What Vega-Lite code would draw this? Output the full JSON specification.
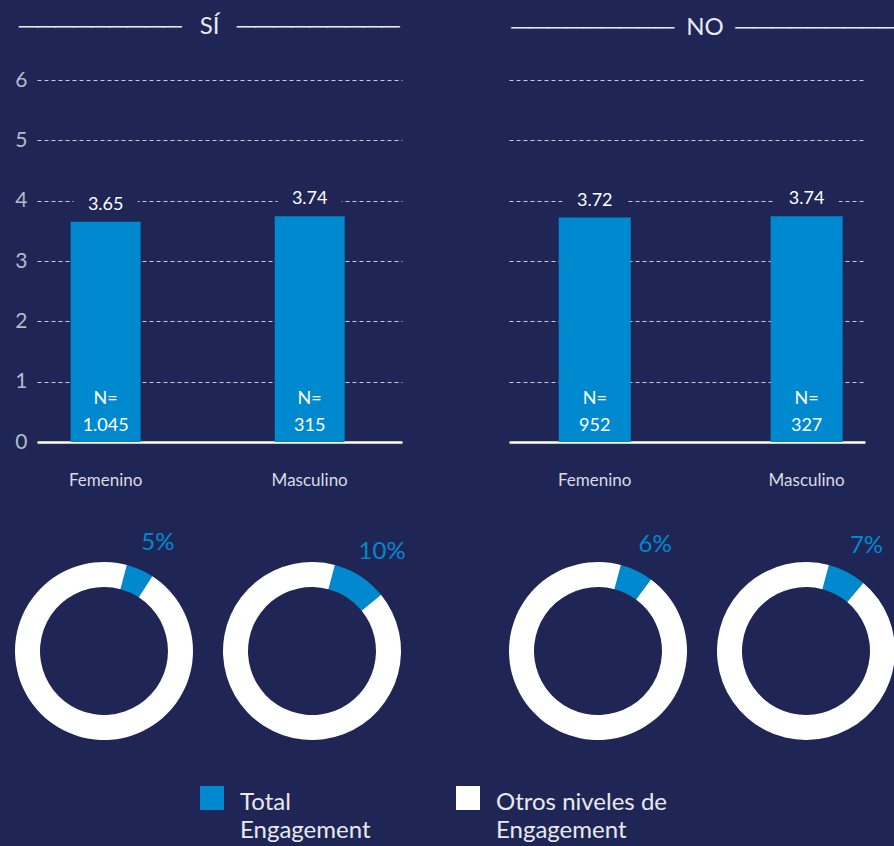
{
  "$schema": "https://vega.github.io/schema/vega-lite/v6.json",
  "background": "#1f2656",
  "padding": {"left": 14, "top": 15, "right": 0, "bottom": 60},
  "datasets": {
    "bars": [
      {"panel": "SÍ", "gender": "Femenino", "mean": 3.65, "n": "1.045"},
      {"panel": "SÍ", "gender": "Masculino", "mean": 3.74, "n": "315"},
      {"panel": "NO", "gender": "Femenino", "mean": 3.72, "n": "952"},
      {"panel": "NO", "gender": "Masculino", "mean": 3.74, "n": "327"}
    ],
    "donuts": [
      {"panel": "SÍ", "gender": "Femenino", "cat": "Total Engagement", "share": 0.05},
      {"panel": "SÍ", "gender": "Femenino", "cat": "Otros niveles de Engagement", "share": 0.95},
      {"panel": "SÍ", "gender": "Masculino", "cat": "Total Engagement", "share": 0.10},
      {"panel": "SÍ", "gender": "Masculino", "cat": "Otros niveles de Engagement", "share": 0.90},
      {"panel": "NO", "gender": "Femenino", "cat": "Total Engagement", "share": 0.06},
      {"panel": "NO", "gender": "Femenino", "cat": "Otros niveles de Engagement", "share": 0.94},
      {"panel": "NO", "gender": "Masculino", "cat": "Total Engagement", "share": 0.07},
      {"panel": "NO", "gender": "Masculino", "cat": "Otros niveles de Engagement", "share": 0.93}
    ]
  },
  "concat": [
    {
      "hconcat": [
        {
          "width": 365, "height": 362,
          "title": {"text": "─────────\u2002\u00a0SÍ\u2002\u00a0─────────", "dx": -10, "dy": 6},
          "data": {"name": "bars"},
          "transform": [{"filter": "datum.panel == 'SÍ'"}],
          "encoding": {
            "x": {"field": "gender", "type": "nominal",
              "scale": {"paddingInner": 0.657, "paddingOuter": 0.223, "align": 0.37},
              "axis": {"labelAngle": 0, "labelFontSize": 17, "labelColor": "#d9dbe4", "labelPadding": 30, "ticks": false, "domainColor": "#ffffff", "domainWidth": 2.5, "grid": false}}
          },
          "layer": [
            {"mark": {"type": "bar", "color": "#0089cf", "opacity": 1},
             "encoding": {"y": {"field": "mean", "type": "quantitative", "scale": {"domain": [0, 6]},
               "axis": {"values": [0, 1, 2, 3, 4, 5, 6], "format": "d", "grid": true, "gridDash": [4, 3], "gridColor": "#c9ccd9", "gridWidth": 1,
                 "gridOpacity": {"condition": {"test": "datum.value == 0", "value": 0}, "value": 1},
                 "domain": false, "ticks": false, "labelFontSize": 21, "labelColor": "#b6bacb", "labelPadding": 10}}}},
            {"mark": {"type": "tick", "color": "#1f2656", "opacity": 1, "size": 64, "thickness": 24, "yOffset": -13},
             "encoding": {"y": {"field": "mean", "type": "quantitative"}}},
            {"mark": {"type": "text", "color": "#ffffff", "fontSize": 18, "dy": -17, "baseline": "middle"},
             "encoding": {"y": {"field": "mean", "type": "quantitative"}, "text": {"field": "mean", "type": "quantitative", "format": ".2f"}}},
            {"mark": {"type": "text", "color": "#ffffff", "fontSize": 18, "dy": -43, "baseline": "middle"},
             "encoding": {"y": {"datum": 0}, "text": {"value": "N="}}},
            {"mark": {"type": "text", "color": "#ffffff", "fontSize": 18, "dy": -16, "baseline": "middle"},
             "encoding": {"y": {"datum": 0}, "text": {"field": "n"}}}
          ]
        },
        {
          "width": 356, "height": 362,
          "title": {"text": "─────────\u00a0\u00a0NO\u00a0\u00a0─────────", "dx": 18, "dy": -4},
          "data": {"name": "bars"},
          "transform": [{"filter": "datum.panel == 'NO'"}],
          "encoding": {
            "x": {"field": "gender", "type": "nominal",
              "scale": {"paddingInner": 0.66, "paddingOuter": 0.17, "align": 0.69},
              "axis": {"labelAngle": 0, "labelFontSize": 17, "labelColor": "#d9dbe4", "labelPadding": 30, "ticks": false, "domainColor": "#ffffff", "domainWidth": 2.5, "grid": false}}
          },
          "layer": [
            {"mark": {"type": "bar", "color": "#0089cf", "opacity": 1},
             "encoding": {"y": {"field": "mean", "type": "quantitative", "scale": {"domain": [0, 6]},
               "axis": {"values": [0, 1, 2, 3, 4, 5, 6], "grid": true, "gridDash": [4, 3], "gridColor": "#c9ccd9", "gridWidth": 1,
                 "gridOpacity": {"condition": {"test": "datum.value == 0", "value": 0}, "value": 1},
                 "domain": false, "ticks": false, "labels": false}}}},
            {"mark": {"type": "tick", "color": "#1f2656", "opacity": 1, "size": 64, "thickness": 24, "yOffset": -13},
             "encoding": {"y": {"field": "mean", "type": "quantitative"}}},
            {"mark": {"type": "text", "color": "#ffffff", "fontSize": 18, "dy": -17, "baseline": "middle"},
             "encoding": {"y": {"field": "mean", "type": "quantitative"}, "text": {"field": "mean", "type": "quantitative", "format": ".2f"}}},
            {"mark": {"type": "text", "color": "#ffffff", "fontSize": 18, "dy": -43, "baseline": "middle"},
             "encoding": {"y": {"datum": 0}, "text": {"value": "N="}}},
            {"mark": {"type": "text", "color": "#ffffff", "fontSize": 18, "dy": -16, "baseline": "middle"},
             "encoding": {"y": {"datum": 0}, "text": {"field": "n"}}}
          ]
        }
      ],
      "spacing": 107
    },
    {
      "hconcat": [
        {
          "hconcat": [
            {
              "width": 134, "height": 180,
              "data": {"name": "donuts"},
              "transform": [{"filter": "datum.panel == 'SÍ' && datum.gender == 'Femenino'"}],
              "encoding": {
                "theta": {"field": "share", "type": "quantitative", "stack": true, "scale": {"range": [0.26, 6.5432]}},
                "order": {"field": "cat", "sort": "descending"},
                "color": {"field": "cat", "type": "nominal", "scale": {"domain": ["Total Engagement", "Otros niveles de Engagement"], "range": ["#0089cf", "#ffffff"]},
                  "legend": {"labelExpr": "datum.label == 'Total Engagement' ? ['Total', 'Engagement'] : ['Otros niveles de', 'Engagement']",
                    "encode": {"labels": {"update": {"dy": {"value": 5}, "lineHeight": {"value": 28}}}}}}
              },
              "layer": [
                {"mark": {"type": "arc", "radius": 89, "innerRadius": 64}},
                {"mark": {"type": "text", "radius": 118, "dx": 6, "fontSize": 24, "color": "#0089cf"},
                 "encoding": {"color": {"value": "#0089cf"}, "text": {"condition": {"test": "datum.cat == 'Total Engagement'", "field": "share", "type": "quantitative", "format": ".0%"}, "value": ""}}}
              ]
            },
            {
              "width": 180, "height": 180,
              "data": {"name": "donuts"},
              "transform": [{"filter": "datum.panel == 'SÍ' && datum.gender == 'Masculino'"}],
              "encoding": {
                "theta": {"field": "share", "type": "quantitative", "stack": true, "scale": {"range": [0.26, 6.5432]}},
                "order": {"field": "cat", "sort": "descending"},
                "color": {"field": "cat", "type": "nominal", "scale": {"domain": ["Total Engagement", "Otros niveles de Engagement"], "range": ["#0089cf", "#ffffff"]},
                  "legend": {"labelExpr": "datum.label == 'Total Engagement' ? ['Total', 'Engagement'] : ['Otros niveles de', 'Engagement']",
                    "encode": {"labels": {"update": {"dy": {"value": 5}, "lineHeight": {"value": 28}}}}}}
              },
              "layer": [
                {"mark": {"type": "arc", "radius": 89, "innerRadius": 64}},
                {"mark": {"type": "text", "radius": 118, "dx": 6, "fontSize": 24, "color": "#0089cf"},
                 "encoding": {"color": {"value": "#0089cf"}, "text": {"condition": {"test": "datum.cat == 'Total Engagement'", "field": "share", "type": "quantitative", "format": ".0%"}, "value": ""}}}
              ]
            }
          ],
          "spacing": 29
        },
        {
          "hconcat": [
            {
              "width": 180, "height": 180,
              "data": {"name": "donuts"},
              "transform": [{"filter": "datum.panel == 'NO' && datum.gender == 'Femenino'"}],
              "encoding": {
                "theta": {"field": "share", "type": "quantitative", "stack": true, "scale": {"range": [0.26, 6.5432]}},
                "order": {"field": "cat", "sort": "descending"},
                "color": {"field": "cat", "type": "nominal", "scale": {"domain": ["Total Engagement", "Otros niveles de Engagement"], "range": ["#0089cf", "#ffffff"]},
                  "legend": {"labelExpr": "datum.label == 'Total Engagement' ? ['Total', 'Engagement'] : ['Otros niveles de', 'Engagement']",
                    "encode": {"labels": {"update": {"dy": {"value": 5}, "lineHeight": {"value": 28}}}}}}
              },
              "layer": [
                {"mark": {"type": "arc", "radius": 89, "innerRadius": 64}},
                {"mark": {"type": "text", "radius": 118, "dx": 6, "fontSize": 24, "color": "#0089cf"},
                 "encoding": {"color": {"value": "#0089cf"}, "text": {"condition": {"test": "datum.cat == 'Total Engagement'", "field": "share", "type": "quantitative", "format": ".0%"}, "value": ""}}}
              ]
            },
            {
              "width": 180, "height": 180,
              "data": {"name": "donuts"},
              "transform": [{"filter": "datum.panel == 'NO' && datum.gender == 'Masculino'"}],
              "encoding": {
                "theta": {"field": "share", "type": "quantitative", "stack": true, "scale": {"range": [0.26, 6.5432]}},
                "order": {"field": "cat", "sort": "descending"},
                "color": {"field": "cat", "type": "nominal", "scale": {"domain": ["Total Engagement", "Otros niveles de Engagement"], "range": ["#0089cf", "#ffffff"]},
                  "legend": {"labelExpr": "datum.label == 'Total Engagement' ? ['Total', 'Engagement'] : ['Otros niveles de', 'Engagement']",
                    "encode": {"labels": {"update": {"dy": {"value": 5}, "lineHeight": {"value": 28}}}}}}
              },
              "layer": [
                {"mark": {"type": "arc", "radius": 89, "innerRadius": 64}},
                {"mark": {"type": "text", "radius": 118, "dx": 6, "fontSize": 24, "color": "#0089cf"},
                 "encoding": {"color": {"value": "#0089cf"}, "text": {"condition": {"test": "datum.cat == 'Total Engagement'", "field": "share", "type": "quantitative", "format": ".0%"}, "value": ""}}}
              ]
            }
          ],
          "spacing": 28
        }
      ],
      "spacing": 102
    }
  ],
  "columns": 1,
  "align": "none",
  "spacing": 43,
  "config": {
    "font": "Lato",
    "view": {"stroke": null},
    "axis": {"title": null},
    "title": {"fontSize": 24, "fontWeight": "normal", "color": "#e8e9ef", "offset": 36, "anchor": "middle"},
    "legend": {
      "orient": "none", "legendX": 163, "legendY": 706, "direction": "horizontal", "columns": 2,
      "title": null,
      "symbolType": "square", "symbolSize": 576, "symbolStrokeWidth": 0, "symbolOpacity": 1,
      "labelFontSize": 24, "labelColor": "#e8e9ef", "labelOffset": 16, "labelLimit": 400,
      "columnPadding": 85
    }
  }
}
